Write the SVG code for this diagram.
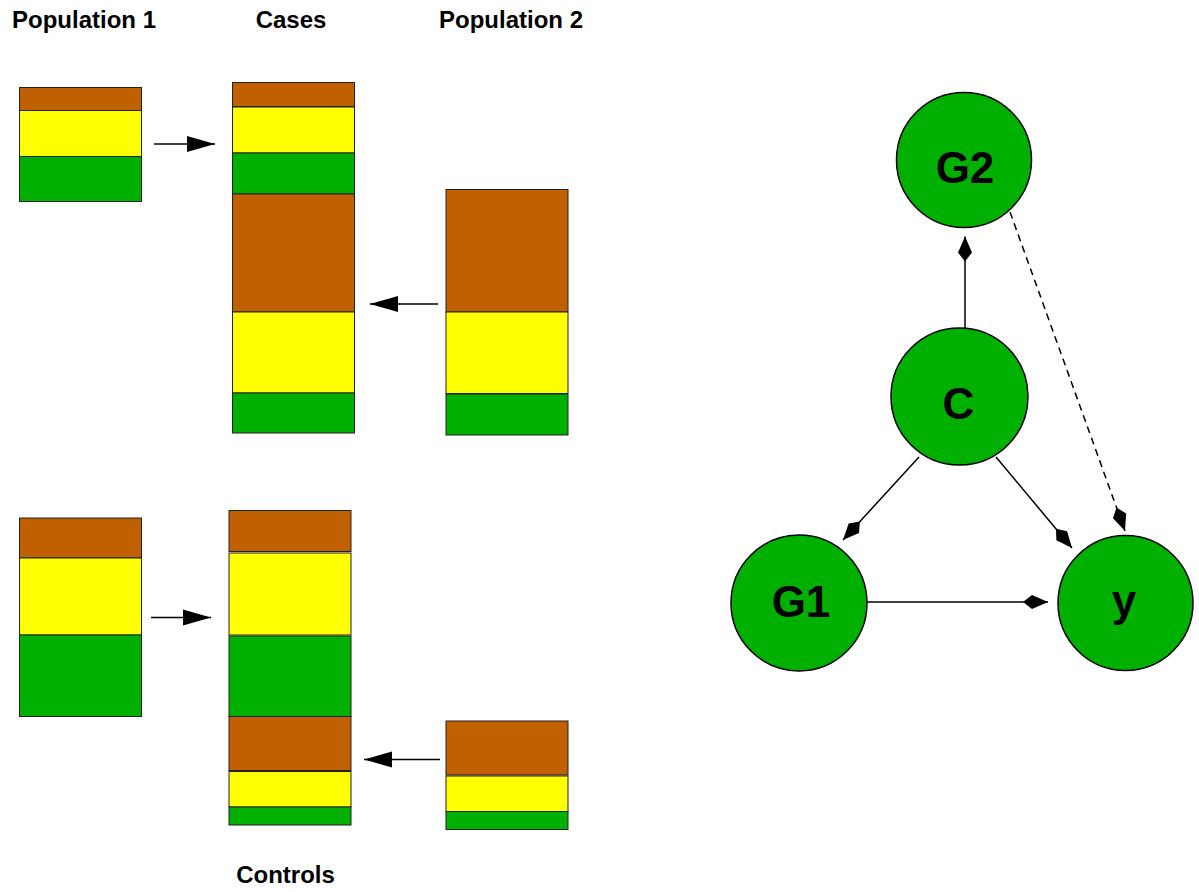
<svg xmlns="http://www.w3.org/2000/svg" width="1199" height="892" viewBox="0 0 1199 892">
<style>
.t{font-family:"Liberation Sans",Arial,sans-serif;font-weight:bold;font-size:24px;fill:#000}
.n{font-family:"Liberation Sans",Arial,sans-serif;font-weight:bold;font-size:44px;fill:#000;text-anchor:middle}
.b{fill:#C06000;stroke:#222;stroke-width:1}
.yl{fill:#FFFF00;stroke:#222;stroke-width:1}
.g{fill:#00B000;stroke:#222;stroke-width:1}
.c{fill:#00B000;stroke:#000;stroke-width:1.5}
.e{fill:none;stroke:#000;stroke-width:1.5}
</style>
<defs>
<marker id="tri" markerUnits="userSpaceOnUse" markerWidth="28" markerHeight="16" refX="28" refY="8" orient="auto" overflow="visible">
<path d="M0,0 L28,8 L0,16 Z" fill="#000"/>
</marker>
<marker id="dia" markerUnits="userSpaceOnUse" markerWidth="25" markerHeight="14" refX="25" refY="7" orient="auto" overflow="visible">
<path d="M0,7 L9,0 L25,7 L9,14 Z" fill="#000"/>
</marker>
</defs>
<g id="titles">
<text class="t" x="12" y="28">Population 1</text>
<text class="t" x="291" y="28" text-anchor="middle">Cases</text>
<text class="t" x="439" y="28">Population 2</text>
<text class="t" x="285.5" y="883" text-anchor="middle">Controls</text>
</g>
<g id="pop1-cases">
<rect class="b" x="19.5" y="87.5" width="122" height="23"/>
<rect class="yl" x="19.5" y="110.5" width="122" height="46"/>
<rect class="g" x="19.5" y="156.5" width="122" height="45"/>
</g>
<g id="cases">
<rect class="b" x="232.5" y="82.5" width="122" height="24"/>
<rect class="yl" x="232.5" y="107" width="122" height="46"/>
<rect class="g" x="232.5" y="153" width="122" height="41"/>
<rect class="b" x="232.5" y="194" width="122" height="118"/>
<rect class="yl" x="232.5" y="312" width="122" height="81"/>
<rect class="g" x="232.5" y="393" width="122" height="40"/>
</g>
<g id="pop2-cases">
<rect class="b" x="446" y="189.5" width="122" height="122.5"/>
<rect class="yl" x="446" y="312" width="122" height="81.5"/>
<rect class="g" x="446" y="394" width="122" height="41"/>
</g>
<g id="pop1-controls">
<rect class="b" x="19.5" y="518" width="122" height="40"/>
<rect class="yl" x="19.5" y="558" width="122" height="77"/>
<rect class="g" x="19.5" y="635" width="122" height="81.5"/>
</g>
<g id="controls">
<rect class="b" x="229" y="510.5" width="122" height="41"/>
<rect class="yl" x="229" y="553" width="122" height="82"/>
<rect class="g" x="229" y="636" width="122" height="80.5"/>
<rect class="b" x="229" y="716.5" width="122" height="54"/>
<rect class="yl" x="229" y="771.5" width="122" height="35.5"/>
<rect class="g" x="229" y="807" width="122" height="18"/>
</g>
<g id="pop2-controls">
<rect class="b" x="446" y="721" width="122" height="54"/>
<rect class="yl" x="446" y="776" width="122" height="35.5"/>
<rect class="g" x="446" y="811.5" width="122" height="18"/>
</g>
<g id="node-G2">
<circle class="c" cx="964" cy="160" r="67.5"/>
<text class="n" x="965" y="183">G2</text>
</g>
<g id="node-C">
<circle class="c" cx="959.5" cy="396.5" r="68.5"/>
<text class="n" x="958.5" y="419">C</text>
</g>
<g id="node-G1">
<circle class="c" cx="799" cy="603" r="68"/>
<text class="n" x="801" y="617">G1</text>
</g>
<g id="node-y">
<circle class="c" cx="1125.5" cy="603" r="67.5"/>
<text class="n" x="1124" y="616">y</text>
</g>
<g id="connectors">
<line class="e" x1="154" y1="144" x2="215" y2="144" marker-end="url(#tri)"/>
<line class="e" x1="438" y1="304" x2="370" y2="304" marker-end="url(#tri)"/>
<line class="e" x1="151" y1="617.5" x2="211" y2="617.5" marker-end="url(#tri)"/>
<line class="e" x1="440" y1="759.5" x2="364" y2="759.5" marker-end="url(#tri)"/>
<line class="e" x1="965" y1="328" x2="965" y2="236.5" marker-end="url(#dia)"/>
<line class="e" x1="919" y1="457" x2="843" y2="540" marker-end="url(#dia)"/>
<line class="e" x1="996" y1="457" x2="1072" y2="548" marker-end="url(#dia)"/>
<line class="e" x1="867" y1="602" x2="1048" y2="602" marker-end="url(#dia)"/>
<line class="e" x1="1010" y1="212" x2="1125" y2="531" stroke-dasharray="7 5" marker-end="url(#dia)"/>
</g>
</svg>
